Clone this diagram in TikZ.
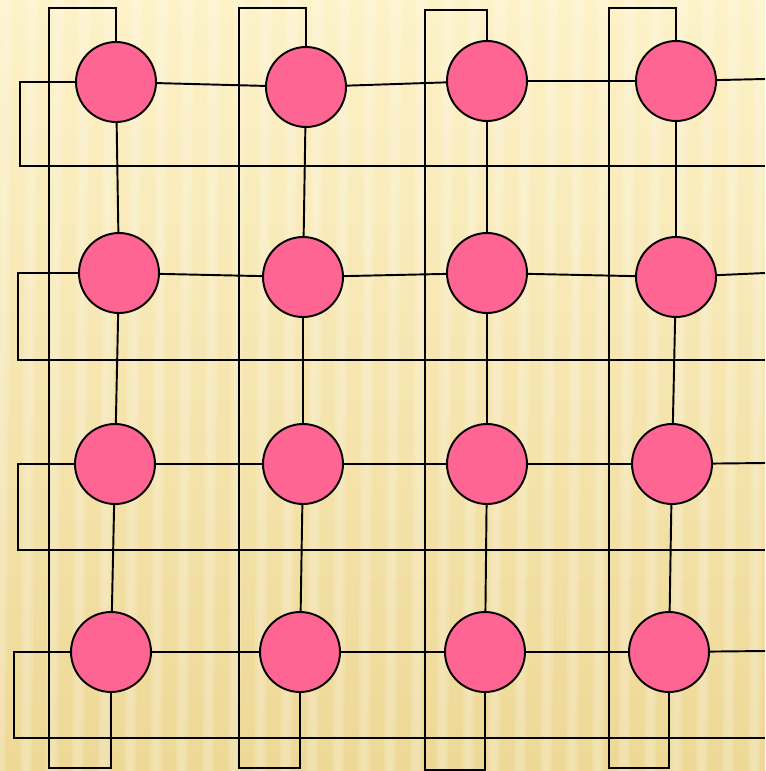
\documentclass[tikz,border=0pt]{standalone}
\usepackage{tikz}
\usetikzlibrary{positioning, calc}

\definecolor{bgtop}{RGB}{253,242,200}
\definecolor{bgbot}{RGB}{238,216,150}
\definecolor{nodepink}{RGB}{255,101,146}

\begin{document}
\begin{tikzpicture}[
    x=0.02cm, y=-0.02cm,
    proc/.style={circle, draw=black, fill=nodepink, line width=1.1pt,
                 minimum size=1.6cm, inner sep=0pt},
    link/.style={line width=1.1pt, draw=black},
    wrap/.style={line width=1.3pt, draw=black}
]
\useasboundingbox (0,0) rectangle (765,771);
% background
\shade[top color=bgtop, bottom color=bgbot] (0,0) rectangle (765,771);
\foreach \s in {0,26,...,780} {
  \fill[white, opacity=0.16] (\s,0) -- (\s+12,0) -- (\s+6,771) -- (\s-6,771) -- cycle;
  \fill[white, opacity=0.12] (\s+3,0) -- (\s+9,0) -- (\s+3,771) -- (\s-3,771) -- cycle;
}
\clip (0,0) rectangle (765,771);

% processors
\foreach \i/\j/\x/\y in {0/0/116/82, 0/1/306/87, 0/2/487/81, 0/3/676/81,
                         1/0/119/273, 1/1/303/277, 1/2/487/273, 1/3/676/277,
                         2/0/115/464, 2/1/303/464, 2/2/487/464, 2/3/672/464,
                         3/0/111/652, 3/1/300/652, 3/2/485/652, 3/3/669/652}
  \node[proc] (n-\i-\j) at (\x,\y) {};

% wrap-around corners
\foreach \j/\cx/\ty/\by in {0/49/8/768, 1/239/8/768, 2/425/10/770, 3/609/8/768} {
  \coordinate (ct-\j) at (\cx,\ty);
  \coordinate (cb-\j) at (\cx,\by);
}
\foreach \i/\rx/\ry in {0/20/166, 1/18/360, 2/18/550, 3/14/738} {
  \coordinate (rl-\i) at (\rx,\ry);
  \coordinate (rr-\i) at (765,\ry);
}
\foreach \i/\ey in {0/79, 1/273, 2/463, 3/651}
  \coordinate (re-\i) at (765,\ey);

% mesh links
\foreach \i in {0,1,2,3} {
  \draw[link] (n-\i-0) -- (n-\i-1);
  \draw[link] (n-\i-1) -- (n-\i-2);
  \draw[link] (n-\i-2) -- (n-\i-3);
  \draw[link] (n-\i-3) -- (re-\i);
  \draw[link] (n-\i-0.west) -| (rl-\i) -- (rr-\i);
}
\foreach \j in {0,1,2,3} {
  \draw[link] (n-0-\j) -- (n-1-\j);
  \draw[link] (n-1-\j) -- (n-2-\j);
  \draw[link] (n-2-\j) -- (n-3-\j);
  \draw[wrap] (n-0-\j.north) |- (ct-\j) -- (cb-\j) -| (n-3-\j.south);
}
\end{tikzpicture}
\end{document}
